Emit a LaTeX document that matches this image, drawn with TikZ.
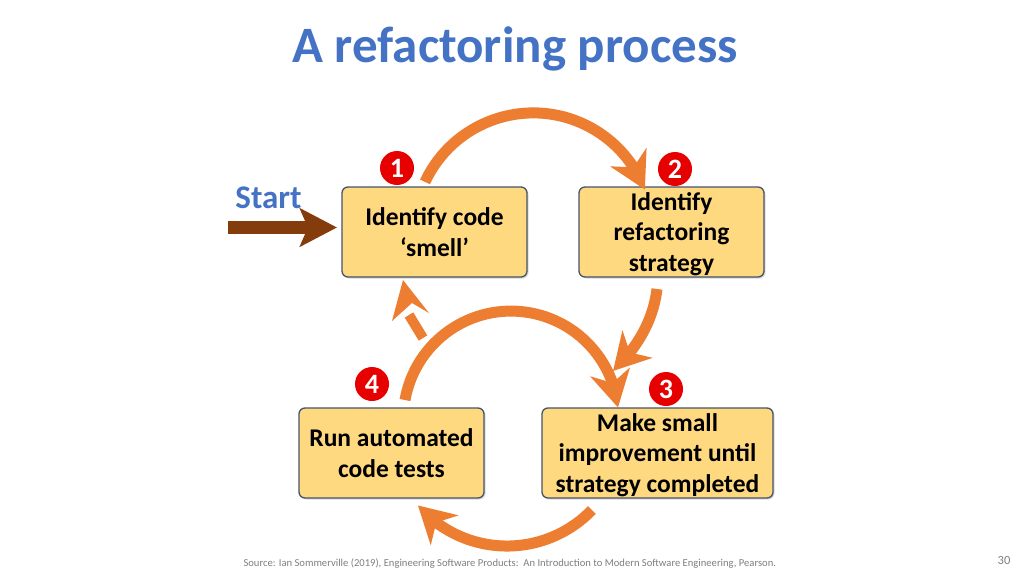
\documentclass[tikz,border=0pt]{standalone}
\usepackage{fontspec}
\setmainfont{Carlito}
\usetikzlibrary{arrows.meta,bending,shadows}
\definecolor{titleblue}{HTML}{4472C4}
\definecolor{flowor}{HTML}{ED7D31}
\definecolor{startbrown}{HTML}{843C0C}
\definecolor{boxfill}{HTML}{FFD97F}
\definecolor{boxline}{HTML}{44546A}
\definecolor{numred}{HTML}{E60000}
\definecolor{srcgray}{HTML}{7F7F7F}
\begin{document}
\begin{tikzpicture}[x=1pt,y=-1pt,
  stepbox/.style={draw=boxline, line width=1.3pt, fill=boxfill, rounded corners=6pt,
    minimum height=90pt, align=center, inner sep=2pt, text depth=0pt,
    font=\fontsize{25.5}{30.5}\selectfont\bfseries,
    drop shadow={shadow xshift=1.5pt, shadow yshift=-1.5pt, opacity=0.3}},
  numdot/.style={circle, fill=numred, minimum size=34pt, inner sep=0pt, text=white,
    font=\fontsize{28}{28}\selectfont\bfseries},
  flow/.style={draw=flowor, line width=11pt, -{Stealth[length=36pt,width=40pt,inset=11pt]}},
]
\useasboundingbox[fill=white] (0,0) rectangle (1024,575);

% title and texts
\node[text=titleblue, font=\fontsize{51}{51}\selectfont\bfseries] (title) at (515,49) {A refactoring process};
\node[text=titleblue, font=\fontsize{33}{33}\selectfont\bfseries] (start) at (268.5,198) {Start};
\node[anchor=west, text=srcgray, font=\fontsize{10.6}{10.6}\selectfont] (src) at (240,564)
  {Source: Ian Sommerville (2019), Engineering Software Products:\ \ An Introduction to Modern Software Engineering, Pearson.};
\node[text=srcgray, font=\fontsize{12.5}{12.5}\selectfont] (pg) at (1004,560) {30};

% boxes
\node[stepbox, minimum width=185pt] (b1) at (434.5,232) {Identify code\\‘smell’};
\node[stepbox, minimum width=185pt] (b2) at (671.5,232) {Identify\\refactoring\\strategy};
\node[stepbox, minimum width=231pt] (b3) at (657.5,453) {Make small\\improvement until\\strategy completed};
\node[stepbox, minimum width=185pt] (b4) at (391.5,453) {Run automated\\code tests};

% start arrow
\coordinate (s0) at (228,227.5);
\coordinate (s1) at (337,227.5);
\draw[draw=startbrown, line width=13pt, -{Stealth[length=37pt,width=38pt,inset=8pt]}] (s0) -- (s1);

% flow arcs
\coordinate (a1s) at (425,181.9);
\draw[flow] (a1s) arc[start angle=-155, end angle=-21, radius=119.5];

\coordinate (a2s) at (657,289);
\coordinate (a2e) at (613,371);
\draw[flow] (a2s) .. controls (653,322) and (636,349) .. (a2e);

\coordinate (a3s) at (405,400);
\draw[flow] (a3s) arc[start angle=-170, end angle=-6, radius=107.6];

\coordinate (a5s) at (591.9,510);
\draw[flow] (a5s) arc[start angle=44, end angle=139, radius=118];

\coordinate (a4s) at (423,338);
\coordinate (a4e) at (409,315);
\draw[draw=flowor, line width=10pt] (a4s) -- (a4e);
\fill[flowor] (403,280) -- (429,313) -- (412,303) -- (392,321) -- cycle;

% number markers
\node[numdot] (n1) at (397,168) {1};
\node[numdot] (n2) at (675,169) {2};
\node[numdot] (n3) at (666,389) {3};
\node[numdot] (n4) at (372,384) {4};
\end{tikzpicture}
\end{document}
